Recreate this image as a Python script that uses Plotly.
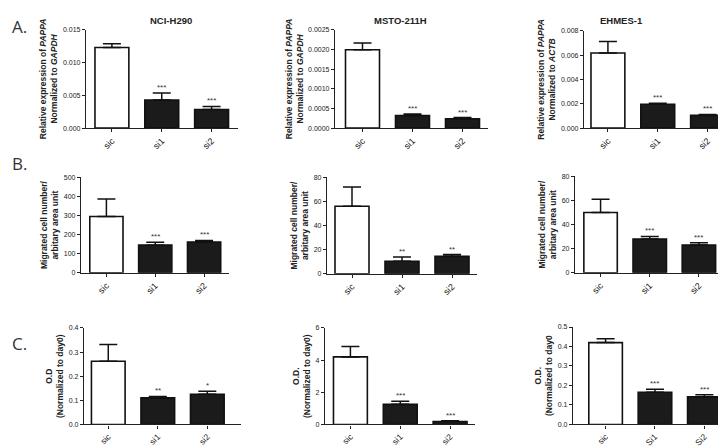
import plotly.graph_objects as go

# ---------------- data ----------------
cell_lines = ["NCI-H290", "MSTO-211H", "EHMES-1"]
groups = ["sic", "si1", "si2"]
groups_c3 = ["sic", "Si1", "Si2"]

# Row A: relative expression of PAPPA
a_h290_mean = [0.0123, 0.0043, 0.00285]
a_h290_sem = [0.00056, 0.00105, 0.00045]
a_msto_mean = [0.00199, 0.00032, 0.00024]
a_msto_sem = [0.00017, 0.00004, 0.00003]
a_ehmes_mean = [0.00617, 0.00196, 0.00105]
a_ehmes_sem = [0.00094, 0.00008, 0.00008]

# Row B: migrated cell number / arbitary area unit
b_h290_mean = [295, 145, 162]
b_h290_sem = [92, 15, 8]
b_msto_mean = [56, 10.5, 14.5]
b_msto_sem = [16, 3.5, 1.5]
b_ehmes_mean = [50, 28, 23]
b_ehmes_sem = [11, 2.2, 2]

# Row C: O.D. normalized to day0
c_h290_mean = [0.262, 0.110, 0.125]
c_h290_sem = [0.070, 0.006, 0.013]
c_msto_mean = [4.2, 1.25, 0.18]
c_msto_sem = [0.65, 0.2, 0.05]
c_ehmes_mean = [0.42, 0.165, 0.142]
c_ehmes_sem = [0.02, 0.015, 0.01]

# significance stars
a_stars = [["", "***", "***"], ["", "***", "***"], ["", "***", "***"]]
b_stars = [["", "***", "***"], ["", "**", "**"], ["", "***", "***"]]
c_stars = [["", "**", "*"], ["", "***", "***"], ["", "***", "***"]]

# axis tick settings
a_ymax = [0.015, 0.0025, 0.008]
a_dtick = [0.005, 0.0005, 0.002]
a_fmt = [".3f", ".4f", ".3f"]
b_ymax = [500, 80, 80]
b_dtick = [100, 20, 20]
c_ymax = [0.4, 6, 0.5]
c_dtick = [0.1, 2, 0.1]
c_fmt = [".1f", "d", ".1f"]

a_ytitles = [
    "Relative expression of <i>PAPPA</i><br>Normalized to <i>GAPDH</i>",
    "Relative expression of <i>PAPPA</i><br>Normalized to <i>GAPDH</i>",
    "Relative expression of <i>PAPPA</i><br>Normalized to <i>ACTB</i>",
]
b_ytitle = "Migrated cell number/<br>arbitary area unit"
c_ytitles = [
    "O.D<br>(Normalized to day0)",
    "O.D.<br>(Normalized to day0)",
    "O.D.<br>(Normalized to day0",
]

# ---------------- layout geometry (pixels) ----------------
W, H = 726, 448
# (left, right, top, bottom) of each plot area in pixels, and x range
geom = [
    [(78, 230, 18, 118, -0.52, 2.53), (327, 480, 18, 118, -0.55, 2.51), (576, 722, 19, 118, -0.48, 2.45)],
    [(73, 221, 168, 265, -0.52, 2.51), (319, 469, 168, 266, -0.50, 2.50), (567, 715, 167, 265, -0.52, 2.49)],
    [(76, 233, 321, 419, -0.49, 2.68), (317, 467, 321, 419, -0.51, 2.50), (565, 722, 320, 419, -0.66, 2.52)],
]
xfont_sizes = [9, 9, 8.5]

rows = [
    dict(means=[a_h290_mean, a_msto_mean, a_ehmes_mean], sems=[a_h290_sem, a_msto_sem, a_ehmes_sem],
         stars=a_stars, ymax=a_ymax, dtick=a_dtick, fmt=a_fmt, titles=a_ytitles),
    dict(means=[b_h290_mean, b_msto_mean, b_ehmes_mean], sems=[b_h290_sem, b_msto_sem, b_ehmes_sem],
         stars=b_stars, ymax=b_ymax, dtick=b_dtick, fmt=["d", "d", "d"], titles=[b_ytitle] * 3),
    dict(means=[c_h290_mean, c_msto_mean, c_ehmes_mean], sems=[c_h290_sem, c_msto_sem, c_ehmes_sem],
         stars=c_stars, ymax=c_ymax, dtick=c_dtick, fmt=c_fmt, titles=c_ytitles),
]

FONT = "Liberation Sans, Arial, sans-serif"
fig = go.Figure()
annotations = []
layout = {}

idx = 0
for r, row in enumerate(rows):
    for c in range(3):
        idx += 1
        xa = "x" if idx == 1 else f"x{idx}"
        ya = "y" if idx == 1 else f"y{idx}"
        xkey = "xaxis" if idx == 1 else f"xaxis{idx}"
        ykey = "yaxis" if idx == 1 else f"yaxis{idx}"
        left, right, top, bottom, x0, x1 = geom[r][c]
        cats = groups_c3 if (r == 2 and c == 2) else groups
        means = row["means"][c]
        sems = row["sems"][c]
        fig.add_trace(go.Bar(
            x=cats, y=means, xaxis=xa, yaxis=ya, width=0.68,
            marker=dict(color=["white", "#1b1b1b", "#1b1b1b"],
                        line=dict(color="#111", width=1.6)),
            error_y=dict(type="data", symmetric=False, array=sems,
                         arrayminus=[0, 0, 0], color="#111", thickness=1.5, width=9),
            showlegend=False, hoverinfo="skip",
        ))
        layout[xkey] = dict(
            domain=[left / W, right / W], anchor=ya, type="category",
            range=[x0, x1], showline=True, linecolor="#222", linewidth=1.2,
            ticks="outside", ticklen=3, tickcolor="#222", tickangle=-45,
            tickfont=dict(family=FONT, size=xfont_sizes[r], color="#222"), showgrid=False,
            zeroline=False, fixedrange=True,
        )
        layout[ykey] = dict(
            domain=[1 - bottom / H, 1 - top / H], anchor=xa,
            range=[0, row["ymax"][c]], dtick=row["dtick"][c], tick0=0,
            tickformat=row["fmt"][c], showline=True, linecolor="#222", linewidth=1.2,
            ticks="outside", ticklen=3, tickcolor="#222",
            tickfont=dict(family=FONT, size=7, color="#222"), showgrid=False,
            zeroline=False, fixedrange=True,
            title=dict(text="<b>" + row["titles"][c] + "</b>", standoff=3,
                       font=dict(family=FONT, size=8.5, color="#222")),
        )
        for i, s in enumerate(row["stars"][c]):
            if s:
                annotations.append(dict(
                    x=cats[i], y=means[i] + sems[i], xref=xa, yref=ya,
                    text=s, showarrow=False, yanchor="bottom", yshift=-1,
                    font=dict(family=FONT, size=8, color="#333"),
                ))

# column titles
for name, cx in zip(cell_lines, [140, 392, 637]):
    annotations.append(dict(x=cx / W, y=1 - 1 / H, xref="paper", yref="paper",
                            text=f"<b>{name}</b>", showarrow=False, yanchor="top",
                            font=dict(family=FONT, size=9.5, color="#222")))
# panel letters
for letter, py in zip(["A.", "B.", "C."], [15, 154, 337]):
    annotations.append(dict(x=2 / W, y=1 - py / H, xref="paper", yref="paper",
                            text=letter, showarrow=False, xanchor="left", yanchor="middle",
                            font=dict(family="Open Sans, sans-serif", size=17, color="#333")))

fig.update_layout(
    width=W, height=H, margin=dict(l=0, r=0, t=0, b=0),
    paper_bgcolor="white", plot_bgcolor="white",
    annotations=annotations, bargap=0.3, **layout,
)
fig.write_html("out.html")
